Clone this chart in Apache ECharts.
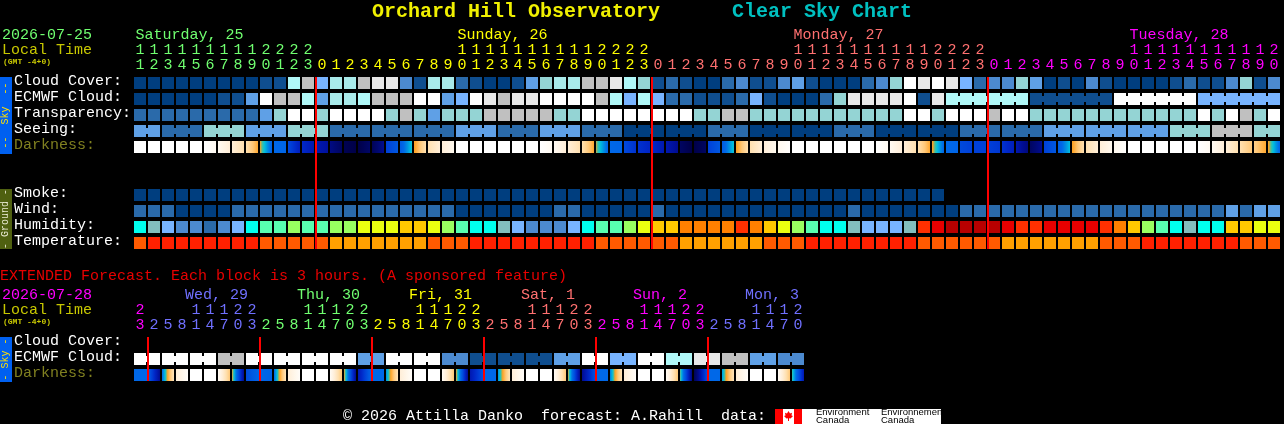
<!DOCTYPE html>
<html><head><meta charset="utf-8">
<style>html,body{margin:0;padding:0;background:#000}#c{width:1284px;height:424px}</style>
<script src="https://cdn.jsdelivr.net/npm/echarts@6/dist/echarts.min.js"></script>
</head><body><div id="c"></div>
<script>
// ---------- data ----------
const mainHours = [11,12,13,14,15,16,17,18,19,20,21,22,23,
 0,1,2,3,4,5,6,7,8,9,10,11,12,13,14,15,16,17,18,19,20,21,22,23,
 0,1,2,3,4,5,6,7,8,9,10,11,12,13,14,15,16,17,18,19,20,21,22,23,
 0,1,2,3,4,5,6,7,8,9,10,11,12,13,14,15,16,17,18,19,20];
const extHours = [23,2,5,8,11,14,17,20,23,2,5,8,11,14,17,20,23,2,5,8,11,14,17,20,23,2,5,8,11,14,17,20,23,2,5,8,11,14,17,20,23,2,5,8,11,14,17,20];
const mainRows = ['Cloud Cover:','ECMWF Cloud:','Transparency:','Seeing:','Darkness:','','','Smoke:','Wind:','Humidity:','Temperature:'];
const extRows = ['Cloud Cover:','ECMWF Cloud:','Darkness:'];
const mainDays = ['Saturday, 25','Sunday, 26','Monday, 27','Tuesday, 28'];
const extDays = ['Wed, 29','Thu, 30','Fri, 31','Sat, 1','Sun, 2','Mon, 3'];
const midnightsMain = [13,37,61];
const midnightsExt = [1,9,17,25,33,41];

const cloud = [0,0,0,0,0,0,0,0,0,1,1,8,9,5,7,7,9,10,10,3,1,7,7,2,1,0,0,1,4,6,7,7,9,9,10,8,6,1,2,1,0,0,2,3,1,1,3,4,1,0,0,0,2,3,6,11,10,11,10,5,2,3,3,6,4,0,1,0,3,1,0,0,0,0,1,2,1,1,3,6,1,3];
const ecmwf = [0,0,0,0,0,0,1,1,4,11,9,9,8,4,7,7,8,9,9,9,11,11,4,5,11,10,9,10,10,11,11,11,11,9,8,5,8,5,2,2,1,1,1,2,5,1,0,0,0,2,6,10,10,10,10,11,1,10,8,8,8,8,8,8,1,1,1,1,1,1,11,11,11,11,11,11,5,5,5,5,5,5];
const transparency = [2,2,2,2,2,2,2,2,2,4,6,11,11,6,11,11,11,11,6,9,6,4,6,6,6,9,9,9,9,9,6,6,11,11,11,11,11,11,11,11,6,6,9,9,6,6,6,6,6,6,6,6,6,6,6,11,11,6,11,11,11,9,11,11,6,6,6,6,6,6,6,6,6,6,6,6,11,6,11,9,6,11];
const seeing = [4,4,2,2,2,6,6,6,4,4,4,6,6,6,2,2,2,2,2,2,2,2,2,4,4,4,2,2,2,4,4,4,2,2,2,0,0,0,0,0,0,2,2,2,0,0,0,0,0,0,2,2,2,0,0,0,0,0,0,2,2,2,2,2,2,4,4,4,4,4,4,4,4,4,6,6,6,9,9,9,6,6];
const smoke = [0,0,0,0,0,0,0,0,0,0,0,0,0,0,0,0,0,0,0,0,0,0,0,0,0,0,0,0,0,0,0,0,0,0,0,0,0,0,0,0,0,0,0,0,0,0,0,0,0,0,0,0,0,0,0,0,0,0];
const wind = [2,2,2,0,0,0,0,2,2,2,2,2,2,2,2,2,2,2,2,2,2,2,2,0,0,0,0,0,0,0,2,2,0,0,0,0,0,2,0,0,0,0,0,0,0,0,0,0,0,0,0,2,0,0,0,0,0,0,0,2,2,2,2,2,2,2,2,2,2,2,2,2,2,2,2,2,2,2,4,2,4,4];
const humidity = [8,9,10,11,11,12,11,10,8,7,7,6,7,7,6,6,5,5,5,4,4,5,6,7,8,8,9,10,11,11,11,10,8,7,7,6,5,4,4,3,3,3,3,2,3,4,5,6,7,8,8,9,10,10,10,9,2,1,0,0,0,0,1,2,2,1,1,1,1,2,3,4,6,7,8,9,8,8,4,4,5,5];
const temperature = [1,0,0,0,0,0,0,0,0,1,1,1,1,1,2,2,2,2,2,2,2,1,1,1,0,0,0,0,0,0,0,0,0,1,1,1,1,1,1,2,2,2,2,2,2,1,1,1,0,0,0,0,0,0,0,0,1,1,1,1,1,1,2,2,2,2,2,2,2,1,1,1,0,0,0,0,0,0,0,1,1,1];
const darkness = [[0,0],[0,0],[0,0],[0,0],[0,0],[0,.4],[.4,1.2],[1.2,2],[2,3.4],[3.6,5.2],[5,5.1],[5.8,6.8],[6.5,7],[7,7.3],[7.7,8.3],[8.6,8.8],[8.8,8.2],[8.5,7.5],[6,5.5],[5.4,4.1],[3.6,2],[2,1.2],[1.2,.5],
 [0,0],[0,0],[0,0],[0,0],[0,0],[0,0],[0,.4],[.4,1.2],[1.2,2],[2,3.4],[3.7,5.1],[5,5.1],[5.8,6.3],[6.3,6.6],[6.5,7],[7,7.5],[8.3,8.8],[8.8,8.3],[6,5.5],[5.4,4.1],[3.6,2],[2,1.2],[1.2,.5],[.5,.1],
 [0,0],[0,0],[0,0],[0,0],[0,0],[0,0],[0,.4],[.4,1.2],[1.2,2],[2,3.4],[3.5,5.1],[5,5.1],[5.8,6],[6,6],[6,6.2],[6.3,6.8],[7,7.8],[8.3,7.5],[6,5.5],[5.4,4.2],[3.6,2],[2,1.2],[1.2,.5],[.5,.1],
 [0,0],[0,0],[0,0],[0,0],[0,0],[0,.4],[.4,1.2],[1.2,2],[2,2.8],[2.6,3.4],[3.5,5.1]];
const extEcmwf = [11,11,11,9,11,11,11,11,4,11,11,3,1,1,1,4,11,5,11,8,10,9,4,3];
const extDarkness = [[5,5],[5.3,7.5],[5,1.8],[1.2,.2],[0,0],[0,0],[.3,2.8],[3.5,7.5],
 [5.8,5],[5,5.2],[5,1.8],[1.2,.2],[0,0],[0,0],[.3,2.8],[3.5,7.5],
 [7,5],[5,5],[4.6,1.8],[1.2,.2],[0,0],[0,0],[.3,2.8],[3.5,7.5],
 [7,5.5],[5,5],[4.6,1.8],[1.2,.2],[0,0],[0,0],[.3,2.8],[3.6,7.5],
 [7.5,5.5],[5,5],[4.8,1.8],[1.2,.2],[0,0],[0,0],[.3,2.8],[3.8,7.8],
 [8.5,5.5],[5,5],[4.5,1.8],[1.2,.2],[0,0],[0,0],[.3,2.8],[3.9,7]];

// ---------- palettes and geometry ----------
const skyPal = ['#003e7f','#0f4e8f','#2a6aaa','#4c8ad0','#5fa0e6','#78b4ff','#94d4d4','#a8eaea','#b0f8f8','#c0c0c0','#e8e8e8','#ffffff'];
const humPal = ['#b80000','#e80000','#ff3000','#ff8000','#ffc800','#eaff10','#98ff60','#58ffb0','#00ffee','#82bebe','#78b4ff','#4c8ad0','#2a6aaa'];
const tempPal = ['#ff2000','#ff5a00','#ffa000'];
const darkStops = [[0,'#ffffff'],[.4,'#fffaf2'],[1.2,'#ffeed8'],[2,'#ffe0b0'],[2.8,'#ffc878'],[3.4,'#ffa830'],[3.6,'#ffa020'],[3.9,'#40c0a0'],[4.2,'#00c0e0'],[4.6,'#0090e0'],[5,'#0068e8'],[5.5,'#0058e0'],[6,'#0040d8'],[6.5,'#0028c8'],[7,'#0018b0'],[7.5,'#000c90'],[8,'#000870'],[8.8,'#000048']];
const mainDayCol = ['#70ff70','#ffff00','#ff7070','#ff00ff'];
const extDayCol = ['#ff00ff','#7070ff','#70ff70','#ffff00','#ff7070','#ff00ff','#7070ff'];
const MONO = '"Liberation Mono", monospace';
const PITCH = 14, LEFT = 133;

function hex(c){return [1,3,5].map(k=>parseInt(c.substr(k,2),16));}
function darkColor(v){
  for(let k=1;k<darkStops.length;k++){
    if(v<=darkStops[k][0]){
      const a=darkStops[k-1],b=darkStops[k],t=(v-a[0])/(b[0]-a[0]),A=hex(a[1]),B=hex(b[1]);
      return 'rgb('+A.map((x,j)=>Math.round(x+(B[j]-x)*t)).join(',')+')';
    }
  }
  return darkStops[darkStops.length-1][1];
}
function dayIdx(hours){let d=0;return hours.map((h,i)=>{if(i&&h<hours[i-1])d++;return d;});}
const mainDayOf = dayIdx(mainHours), extDayOf = dayIdx(extHours);

function levelSeries(vals,row,pal,link,gridIdx,xIdx){
  return {type:'custom',coordinateSystem:'cartesian2d',xAxisIndex:xIdx,yAxisIndex:gridIdx,clip:false,z:2,silent:true,
    data:vals.map((v,i)=>[i,row,v,link&&link(i,vals)?1:0]),
    encode:{x:0,y:1},
    renderItem(p,api){
      const c=api.coord([api.value(0),api.value(1)]),s=api.size([1,1]);
      const w=s[0]-2,h=s[1]-4,x=c[0]-w/2,y=c[1]-h/2,col=pal[api.value(2)];
      const kids=[{type:'rect',shape:{x,y,width:w,height:h},style:{fill:col}}];
      if(api.value(3)) kids.push({type:'rect',shape:{x:x+w,y:y+3,width:2,height:h-6},style:{fill:col}});
      return {type:'group',children:kids};
    }};
}
function darkSeries(vals,row,join,gridIdx,xIdx){
  return {type:'custom',coordinateSystem:'cartesian2d',xAxisIndex:xIdx,yAxisIndex:gridIdx,clip:false,z:2,silent:true,
    data:vals.map((v,i)=>[i,row,v[0],v[1],join&&join(i,vals)?1:0]),
    encode:{x:0,y:1},
    renderItem(p,api){
      const c=api.coord([api.value(0),api.value(1)]),s=api.size([1,1]);
      const w=s[0]-2,h=s[1]-4,x=c[0]-w/2,y=c[1]-h/2,a=api.value(2),b=api.value(3),j=api.value(4);
      const stops=[];for(let k=0;k<=12;k++){const t=k/12;stops.push({offset:t,color:darkColor(a+(b-a)*t)});}
      const fill=new echarts.graphic.LinearGradient(0,0,1,0,stops);
      return {type:'rect',shape:{x,y,width:w+(j?2:0),height:h},style:{fill}};
    }};
}
function redLines(idx,firstRow,lastRow,gridIdx,xIdx){
  return {type:'custom',coordinateSystem:'cartesian2d',xAxisIndex:xIdx,yAxisIndex:gridIdx,clip:false,z:5,silent:true,
    data:idx.map(i=>[i,firstRow]),encode:{x:0,y:1},
    renderItem(p,api){
      const c=api.coord([api.value(0),firstRow]),e=api.coord([api.value(0),lastRow]),s=api.size([1,1]);
      const y=c[1]-s[1]/2+2;
      return {type:'rect',shape:{x:c[0]-s[0]/2,y,width:2,height:e[1]+s[1]/2-2-y},style:{fill:'#ff0000'}};
    }};
}
const linkEcmwf=(i,v)=>i>=58&&v[i]===v[i+1];
const linkSeeing=(i,v)=>i%3!==1&&v[i]===v[i+1]&&i<v.length-1;
const linkPair=(i)=>i%2===0;
const joinNight=(i,v)=>i%2===0&&i<v.length-1&&v[i][1]>=4.5&&v[i+1][0]>=4.5;
const extEcmwfBlocks=extEcmwf.flatMap(v=>[v,v]);

function hourAxis(labels,cols,grid,margin){
  return {type:'category',gridIndex:grid,position:'top',data:labels,axisLine:{show:false},axisTick:{show:false},splitLine:{show:false},
    axisLabel:{show:true,interval:0,margin,hideOverlap:false,fontFamily:MONO,fontSize:15,verticalAlign:'middle',lineHeight:15,
      color:(v,i)=>cols[i]}};
}
function rowAxis(rows,grid){
  return {type:'category',gridIndex:grid,inverse:true,data:rows,axisLine:{show:false},axisTick:{show:false},splitLine:{show:false},
    axisLabel:{show:true,interval:0,margin:119,align:'left',hideOverlap:false,fontFamily:MONO,fontSize:15,verticalAlign:'bottom',lineHeight:4,
      color:v=>v==='Darkness:'?'#808020':'#ffffff'}};
}
const units=h=>h.map(x=>String(x%10));
const tens=h=>h.map(x=>x>=10?String(Math.floor(x/10)):'');
const mainCols=mainDayOf.map(d=>mainDayCol[d]), extCols=extDayOf.map(d=>extDayCol[d]);

function txt(s,x,y,color,o){
  return Object.assign({type:'text',x,y,z:10,silent:true,style:Object.assign({text:s,fill:color,font:'15px '+MONO,align:'left',verticalAlign:'middle'},o||{})});
}
function sideBar(y,h,bg,label,color){
  return [{type:'rect',shape:{x:0,y,width:12,height:h},style:{fill:bg},z:9,silent:true},
    {type:'text',x:5.5,y:y+h/2,rotation:Math.PI/2,z:10,silent:true,style:{text:label,fill:color,font:'10px '+MONO,align:'center',verticalAlign:'middle'}}];
}
const dayX=i=>LEFT+(i+.5)*PITCH-4.5;
const graphics=[
  txt('Orchard Hill Observatory',372,12,'#f0f000',{font:'bold 20px '+MONO}),
  txt('Clear Sky Chart',732,12,'#00c0c0',{font:'bold 20px '+MONO}),
  txt('2026-07-25',2,35,'#70ff70'),
  txt('Local Time',2,50,'#c8c800'),
  txt('(GMT -4+0)',3,62,'#c8c800',{font:'bold 8px '+MONO}),
  txt('EXTENDED Forecast. Each block is 3 hours. (A sponsored feature)',0,276,'#e80000'),
  txt('2026-07-28',2,295,'#ff00ff'),
  txt('Local Time',2,310,'#c8c800'),
  txt('(GMT -4+0)',3,322,'#c8c800',{font:'bold 8px '+MONO}),
  txt(mainDays[0],dayX(0),35,mainDayCol[0]),
  txt(mainDays[1],dayX(23),35,mainDayCol[1]),
  txt(mainDays[2],dayX(47),35,mainDayCol[2]),
  txt(mainDays[3],dayX(71),35,mainDayCol[3]),
  ...extDays.map((d,k)=>txt(d,185+112*k,295,extDayCol[k+1])),
  ...sideBar(77,77,'#0060f0','--  Sky  --','#ffe000'),
  ...sideBar(189,60,'#4f6010','- Ground -','#e8e8d0'),
  ...sideBar(337,45,'#0060f0','- Sky -','#ffe000'),
  txt('\u00a9 2026 Attilla Danko  forecast: A.Rahill  data:',343,416,'#ffffff'),
  {type:'rect',shape:{x:775,y:409,width:166,height:15},style:{fill:'#ffffff'},z:9,silent:true},
  {type:'rect',shape:{x:775,y:409,width:8,height:15},style:{fill:'#ff0000'},z:10,silent:true},
  {type:'rect',shape:{x:794,y:409,width:8,height:15},style:{fill:'#ff0000'},z:10,silent:true},
  {type:'polygon',shape:{points:[[788.5,411],[790,413.5],[792,412.8],[791.5,415.5],[793,416],[790.5,418.5],[789,418.2],[789,421],[788,421],[788,418.2],[786.5,418.5],[784,416],[785.5,415.5],[785,412.8],[787,413.5]]},style:{fill:'#ff0000'},z:10,silent:true},
  txt('Environment',816,412.5,'#000000',{font:'9.5px "Liberation Sans", sans-serif'}),
  txt('Canada',816,420,'#000000',{font:'9.5px "Liberation Sans", sans-serif'}),
  txt('Environnement',881,412.5,'#000000',{font:'9.5px "Liberation Sans", sans-serif'}),
  txt('Canada',881,420,'#000000',{font:'9.5px "Liberation Sans", sans-serif'})
];

const chart=echarts.init(document.getElementById('c'),null,{renderer:'canvas',width:1284,height:424});
chart.setOption({
  backgroundColor:'#000000',animation:false,tooltip:{show:false},legend:{show:false},
  grid:[{left:LEFT,top:75,width:PITCH*mainHours.length,height:176,containLabel:false},
        {left:LEFT,top:335,width:PITCH*extHours.length,height:48,containLabel:false}],
  xAxis:[hourAxis(units(mainHours),mainCols,0,9.5),hourAxis(tens(mainHours),mainCols,0,25),
         hourAxis(units(extHours),extCols,1,10),hourAxis(tens(extHours),extCols,1,25)],
  yAxis:[rowAxis(mainRows,0),rowAxis(extRows,1)],
  graphic:{elements:graphics},
  series:[
    levelSeries(cloud,0,skyPal,null,0,0),
    levelSeries(ecmwf,1,skyPal,linkEcmwf,0,0),
    levelSeries(transparency,2,skyPal,null,0,0),
    levelSeries(seeing,3,skyPal,linkSeeing,0,0),
    darkSeries(darkness,4,null,0,0),
    levelSeries(smoke,7,skyPal,null,0,0),
    levelSeries(wind,8,skyPal,null,0,0),
    levelSeries(humidity,9,humPal,null,0,0),
    levelSeries(temperature,10,tempPal,null,0,0),
    redLines(midnightsMain,0,10,0,0),
    levelSeries(extEcmwfBlocks,1,skyPal,linkPair,1,2),
    darkSeries(extDarkness,2,joinNight,1,2),
    redLines(midnightsExt,0,2,1,2)
  ]
});
</script></body></html>
